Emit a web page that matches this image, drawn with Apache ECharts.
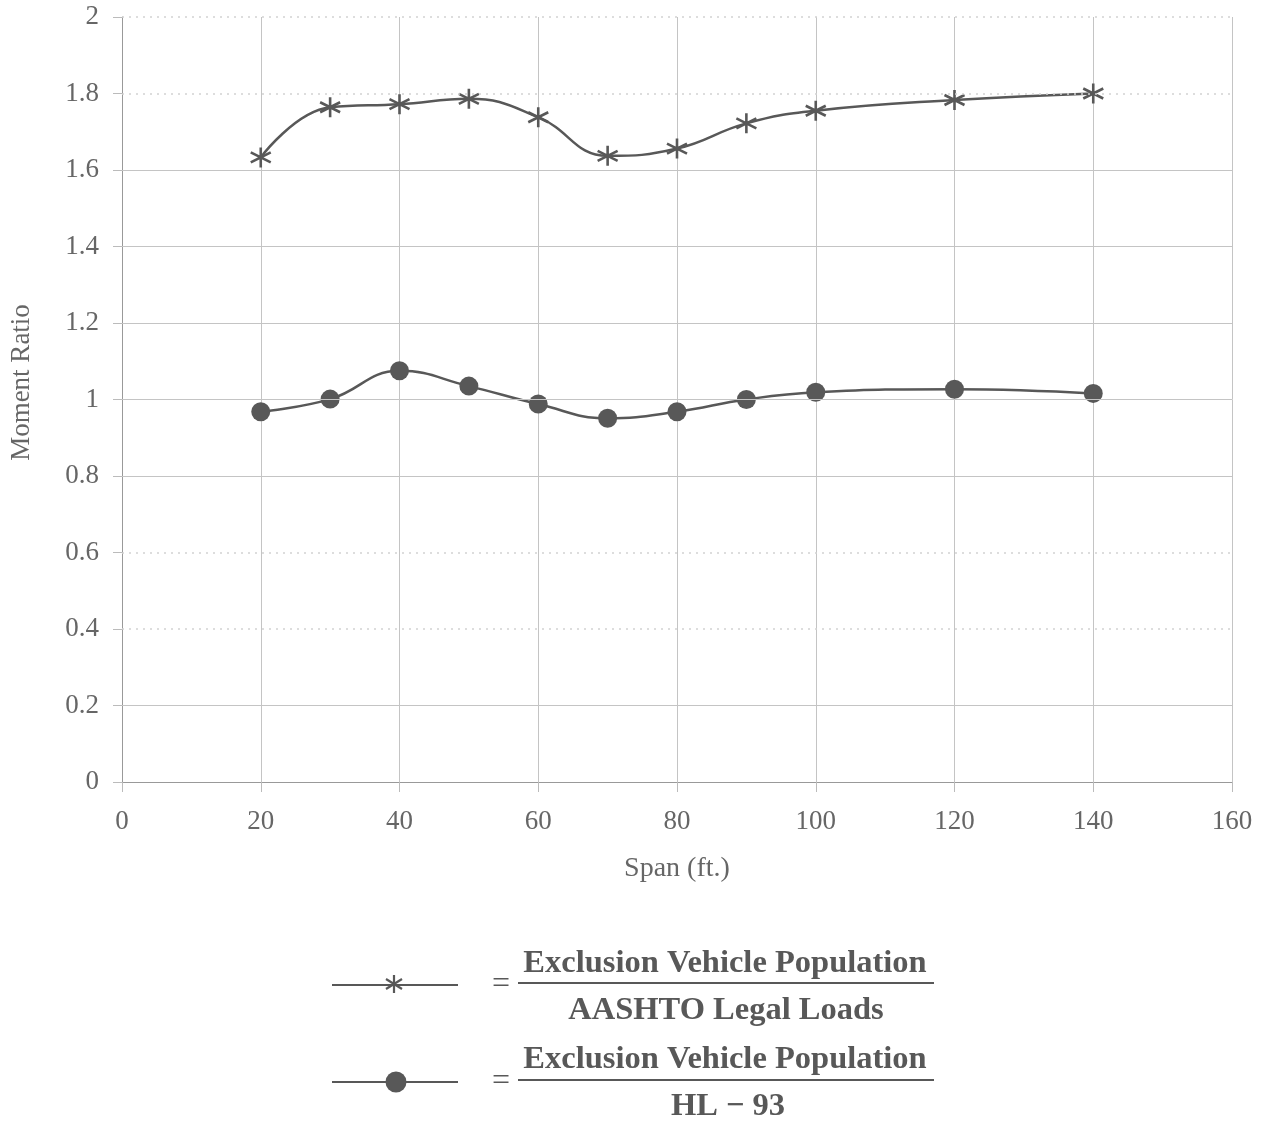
<!DOCTYPE html>
<html>
<head>
<meta charset="utf-8">
<script src="https://cdn.jsdelivr.net/npm/echarts@6/dist/echarts.min.js"></script>
<style>
html,body{margin:0;padding:0;background:#fff;}
#c{width:1271px;height:1122px;}
</style>
</head>
<body>
<div id="c"></div>
<script>
var spans = [20, 30, 40, 50, 60, 70, 80, 90, 100, 120, 140];
var ratioLegal = [1.633, 1.764, 1.772, 1.786, 1.738, 1.637, 1.656, 1.722, 1.755, 1.783, 1.800];
var ratioHL93 = [0.968, 1.001, 1.075, 1.035, 0.988, 0.951, 0.968, 1.000, 1.019, 1.027, 1.016];
var solidGridY = [0.2, 0.8, 1.0, 1.2, 1.4, 1.6];
var dottedGridY = [0.4, 0.6, 1.8, 2.0];
var legendNumerator = 'Exclusion Vehicle Population';
var legendDenom1 = 'AASHTO Legal Loads';
var legendDenom2 = 'HL \u2212 93';

var serif = '"Liberation Serif", "DejaVu Serif", serif';
var ink = '#585858';
var labelColor = '#666';
var star = 'path://M0,-10 L0,10 M-8.66,-5 L8.66,5 M-8.66,5 L8.66,-5';

function pairs(xs, ys){ return xs.map(function(x,i){ return [x, ys[i]]; }); }

var gridMarks = solidGridY.map(function(v){
  return {yAxis: v, lineStyle: {color: '#c4c4c4', width: 1, type: 'solid'}};
}).concat(dottedGridY.map(function(v){
  return {yAxis: v, lineStyle: {color: '#d2d2d2', width: 1.5, type: [2, 5]}};
}));

var chart = echarts.init(document.getElementById('c'));
chart.setOption({
  backgroundColor: '#fff',
  animation: false,
  grid: {left: 122, right: 39, top: 17, bottom: 340, containLabel: false, outerBoundsMode: 'none'},
  xAxis: {
    type: 'value', min: 0, max: 160, interval: 20,
    name: 'Span (ft.)', nameLocation: 'middle', nameGap: 73,
    nameTextStyle: {fontFamily: serif, fontSize: 28, color: labelColor},
    axisLine: {show: true, lineStyle: {color: '#999', width: 1}},
    axisTick: {show: true, length: 10, lineStyle: {color: '#bbb'}},
    axisLabel: {fontFamily: serif, fontSize: 27, color: labelColor, margin: 26},
    splitLine: {show: true, lineStyle: {color: '#c4c4c4', width: 1}}
  },
  yAxis: {
    type: 'value', min: 0, max: 2, interval: 0.2,
    name: 'Moment Ratio', nameLocation: 'middle', nameGap: 87, nameRotate: 90,
    nameTextStyle: {fontFamily: serif, fontSize: 27, color: labelColor, padding: [0, 0, 0, 34]},
    axisLine: {show: true, lineStyle: {color: '#999', width: 1}},
    axisTick: {show: true, length: 9, lineStyle: {color: '#bbb'}},
    axisLabel: {fontFamily: serif, fontSize: 27, color: labelColor, margin: 23,
      formatter: function(v){ return String(+v.toFixed(1)); }},
    splitLine: {show: false}
  },
  series: [
    {
      type: 'line', data: [], z: 0, silent: true,
      markLine: {silent: true, symbol: 'none', label: {show: false}, data: gridMarks}
    },
    {
      type: 'line', smooth: 0.45, data: pairs(spans, ratioLegal), z: 3,
      symbol: star, symbolSize: 20,
      lineStyle: {color: ink, width: 2.5},
      itemStyle: {color: ink, borderColor: ink, borderWidth: 2.6}
    },
    {
      type: 'line', smooth: 0.45, data: pairs(spans, ratioHL93), z: 3,
      symbol: 'circle', symbolSize: 19,
      lineStyle: {color: ink, width: 2.5},
      itemStyle: {color: ink, borderWidth: 0}
    }
  ],
  graphic: [
    {type: 'line', shape: {x1: 332, y1: 985, x2: 458, y2: 985}, style: {stroke: ink, lineWidth: 2}},
    {type: 'line', shape: {x1: 394, y1: 975, x2: 394, y2: 993}, style: {stroke: ink, lineWidth: 2.2}},
    {type: 'line', shape: {x1: 386, y1: 979, x2: 402, y2: 989}, style: {stroke: ink, lineWidth: 2.2}},
    {type: 'line', shape: {x1: 386, y1: 989, x2: 402, y2: 979}, style: {stroke: ink, lineWidth: 2.2}},
    {type: 'text', style: {x: 501, y: 985, text: '=', font: '32px ' + serif, fill: ink, textAlign: 'center', textVerticalAlign: 'middle'}},
    {type: 'text', style: {x: 725, y: 964, text: legendNumerator, font: 'bold 32.5px ' + serif, fill: ink, textAlign: 'center', textVerticalAlign: 'middle'}},
    {type: 'line', shape: {x1: 518, y1: 983, x2: 934, y2: 983}, style: {stroke: ink, lineWidth: 2}},
    {type: 'text', style: {x: 726, y: 1011, text: legendDenom1, font: 'bold 32.5px ' + serif, fill: ink, textAlign: 'center', textVerticalAlign: 'middle'}},

    {type: 'line', shape: {x1: 332, y1: 1082, x2: 458, y2: 1082}, style: {stroke: ink, lineWidth: 2}},
    {type: 'circle', shape: {cx: 396, cy: 1082, r: 10.5}, style: {fill: ink}},
    {type: 'text', style: {x: 501, y: 1082, text: '=', font: '32px ' + serif, fill: ink, textAlign: 'center', textVerticalAlign: 'middle'}},
    {type: 'text', style: {x: 725, y: 1060, text: legendNumerator, font: 'bold 32.5px ' + serif, fill: ink, textAlign: 'center', textVerticalAlign: 'middle'}},
    {type: 'line', shape: {x1: 518, y1: 1080, x2: 934, y2: 1080}, style: {stroke: ink, lineWidth: 2}},
    {type: 'text', style: {x: 728, y: 1107, text: legendDenom2, font: 'bold 32.5px ' + serif, fill: ink, textAlign: 'center', textVerticalAlign: 'middle'}}
  ]
});
</script>
</body>
</html>
